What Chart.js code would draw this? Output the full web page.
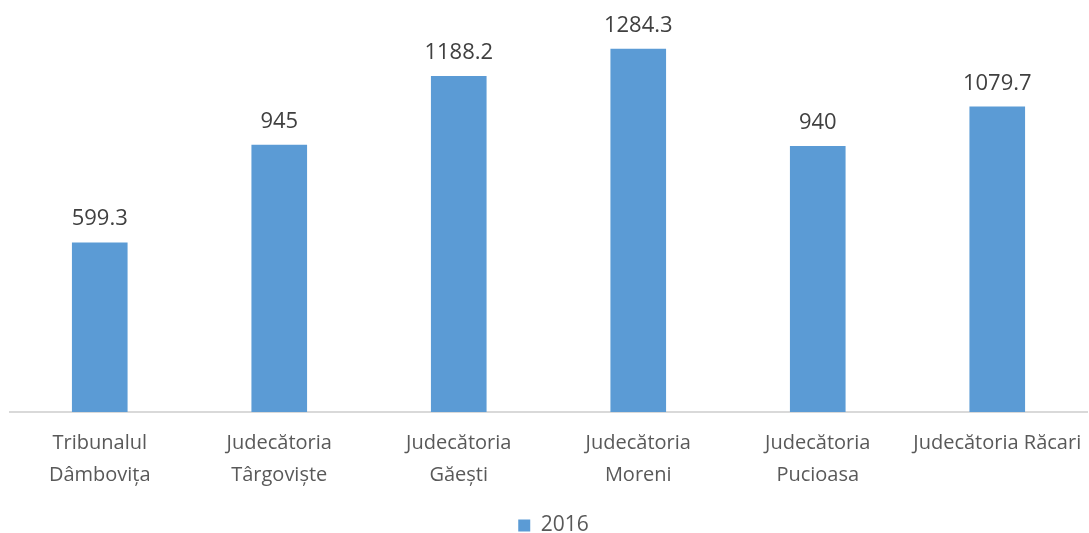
<!DOCTYPE html>
<html><head><meta charset="utf-8">
<script src="https://cdn.jsdelivr.net/npm/chart.js@4/dist/chart.umd.min.js"></script>
<style>html,body{margin:0;padding:0;background:#fff}#wrap{width:1089px;height:533px}</style>
</head><body><div id="wrap"><canvas id="c"></canvas></div>
<script>
const categories = [["Tribunalul","Dâmbovița"],["Judecătoria","Târgoviște"],["Judecătoria","Găești"],["Judecătoria","Moreni"],["Judecătoria","Pucioasa"],["Judecătoria Răcari"]];
const seriesName = "2016";
const values2016 = [599.3, 945, 1188.2, 1284.3, 940, 1079.7];

const FONT = '"Open Sans", "Noto Sans", sans-serif';
const valueLabels = {
  id: 'valueLabels',
  afterLayout(chart) {
    if (chart.legend) { chart.legend.left += 5; chart.legend.right += 5; }
  },
  afterDatasetsDraw(chart) {
    const ctx = chart.ctx;
    ctx.save();
    ctx.font = '22px ' + FONT;
    ctx.fillStyle = '#404040';
    ctx.textAlign = 'center';
    ctx.textBaseline = 'alphabetic';
    chart.getDatasetMeta(0).data.forEach((bar, i) => {
      ctx.fillText(String(chart.data.datasets[0].data[i]), bar.x, bar.y - 17);
    });
    ctx.restore();
  }
};

new Chart(document.getElementById('c'), {
  type: 'bar',
  data: {
    labels: categories,
    datasets: [{
      label: seriesName,
      data: values2016,
      backgroundColor: '#5b9bd5',
      borderWidth: 0,
      barPercentage: 0.31,
      categoryPercentage: 1
    }]
  },
  options: {
    responsive: true,
    maintainAspectRatio: false,
    animation: false,
    layout: { padding: { top: 16, left: 10, right: 2, bottom: -13 } },
    scales: {
      x: {
        grid: { display: false, drawTicks: false },
        border: { display: true, color: '#d9d9d9', width: 2 },
        ticks: { color: '#595959', font: { size: 20, family: FONT, lineHeight: 1.6 }, padding: 15, maxRotation: 0, autoSkip: false },
        afterFit(scale) { scale.paddingLeft = 0; scale.paddingRight = 0; scale.height += 9; }
      },
      y: {
        display: false,
        min: 0, max: 1400
      }
    },
    plugins: {
      legend: {
        position: 'bottom',
        labels: { color: '#595959', font: { size: 21, family: FONT }, boxWidth: 12, boxHeight: 12, padding: 0 }
      },
      tooltip: { enabled: false }
    }
  },
  plugins: [valueLabels]
});
</script></body></html>
